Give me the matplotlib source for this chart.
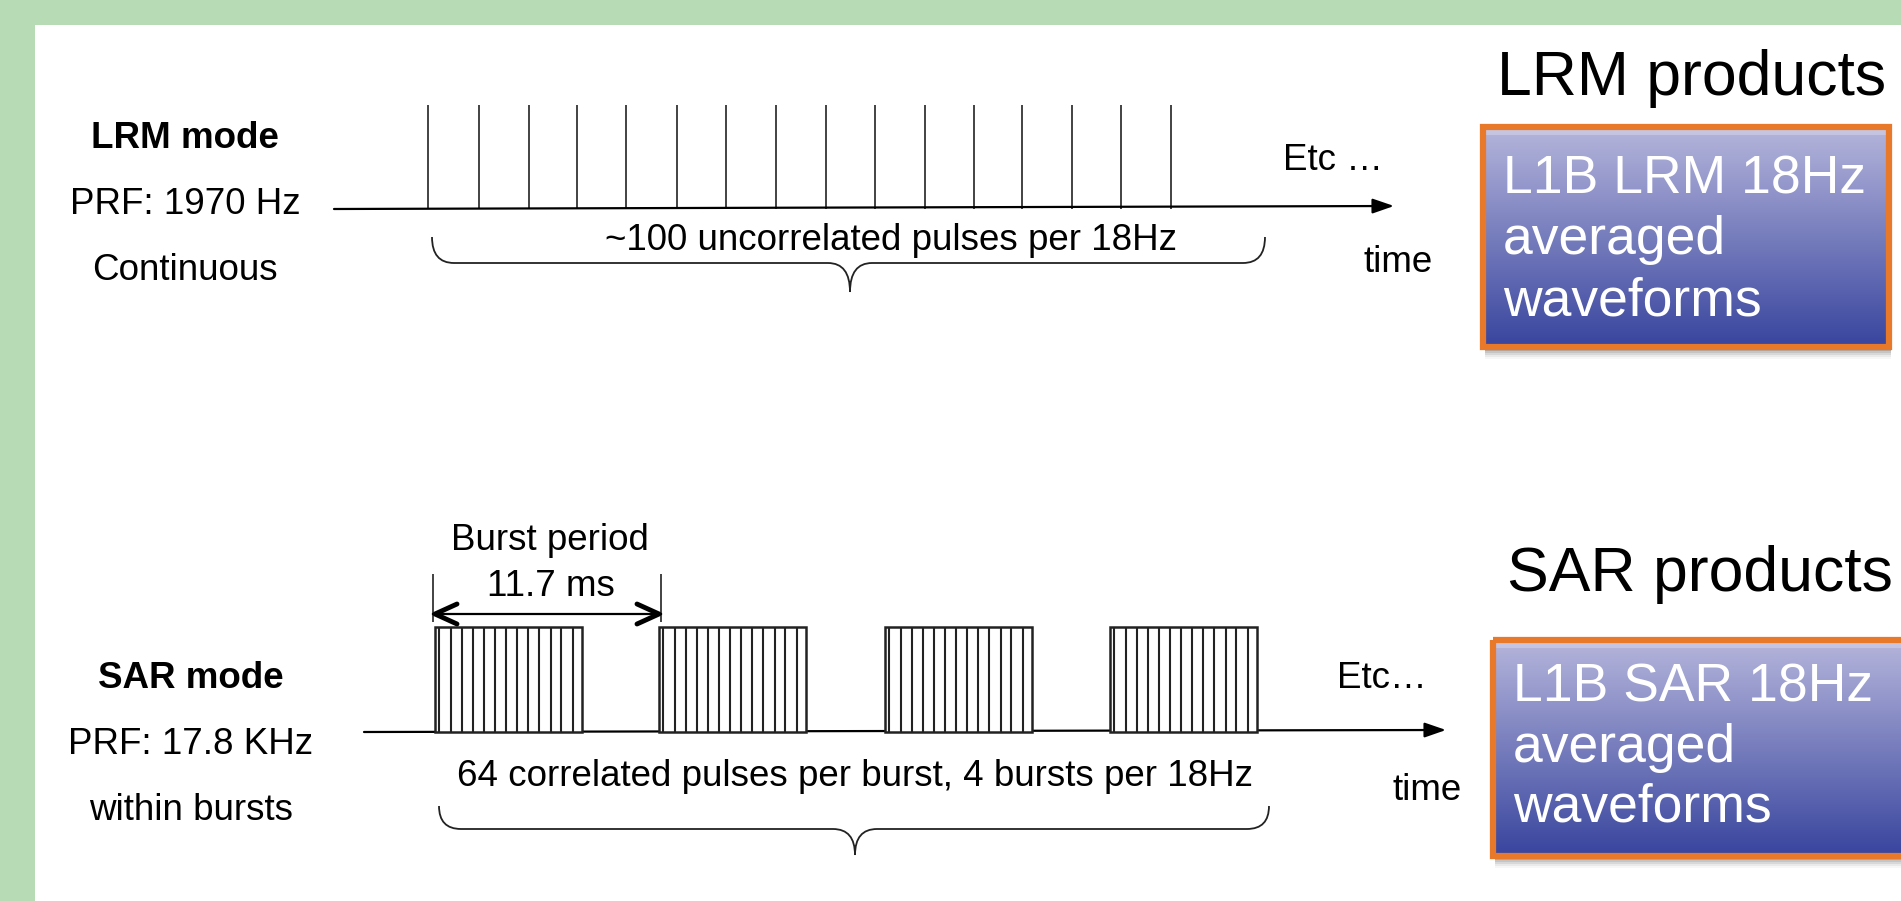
import numpy as np
import matplotlib
matplotlib.use("Agg")
import matplotlib.pyplot as plt
from matplotlib.path import Path
from matplotlib.patches import PathPatch, Rectangle

W, H = 1901, 901

# LRM timeline (pixel positions)
lrm_pulse_x = [428, 479, 529, 577, 626, 677, 726, 776, 826, 875, 925, 974, 1022, 1072, 1121, 1171]
lrm_labels = ["LRM mode", "PRF: 1970 Hz", "Continuous"]
lrm_brace_text = "~100 uncorrelated pulses per 18Hz"

# SAR timeline
sar_burst_x = [435, 659, 885, 1110]
sar_burst_width = 147
sar_pulse_offsets = [4, 16, 27, 38, 49, 60, 71, 82, 93, 104, 116, 126, 138]
sar_labels = ["SAR mode", "PRF: 17.8 KHz", "within bursts"]
sar_brace_text = "64 correlated pulses per burst, 4 bursts per 18Hz"
burst_period_text = ["Burst period", "11.7 ms"]

products = ["LRM products", "SAR products"]
box_lines = [["L1B LRM 18Hz", "averaged", "waveforms"],
             ["L1B SAR 18Hz", "averaged", "waveforms"]]

FONT = ["Liberation Sans", "DejaVu Sans"]
GREEN = "#b7dbb5"


def brace(ax, x0, x1, xc, ytop, ymid, ytip, r=22):
    verts = [(x0, ytop), (x0, ymid), (x0 + r, ymid),
             (xc - r, ymid), (xc, ymid), (xc, ytip),
             (xc, ymid), (xc + r, ymid),
             (x1 - r, ymid), (x1, ymid), (x1, ytop)]
    codes = [Path.MOVETO, Path.CURVE3, Path.CURVE3,
             Path.LINETO, Path.CURVE3, Path.CURVE3,
             Path.CURVE3, Path.CURVE3,
             Path.LINETO, Path.CURVE3, Path.CURVE3]
    ax.add_patch(PathPatch(Path(verts, codes), fill=False, lw=1.3, ec="#222222"))


def product_box(ax, x0, y0, x1, y1, lines, first=50, step=61):
    # drop shadow
    for k, a in enumerate([0.12, 0.09, 0.07, 0.05, 0.03]):
        ax.add_patch(Rectangle((x0 + 2, y0 + 4 + k * 2), x1 - x0, y1 - y0,
                               fc="black", ec="none", alpha=a, zorder=2))
    grad = np.linspace(0, 1, 256)[:, None]
    top = np.array([0.71, 0.71, 0.86])
    bot = np.array([0.22, 0.27, 0.62])
    img = top[None, None, :] * (1 - grad[..., None]) + bot[None, None, :] * grad[..., None]
    ax.imshow(img, extent=(x0, x1, y1, y0), aspect="auto", zorder=3)
    # light bevel strip at the top
    ax.add_patch(Rectangle((x0, y0), x1 - x0, 8, fc="white", ec="none", alpha=0.25, zorder=3.5))
    ax.add_patch(Rectangle((x0, y0), x1 - x0, y1 - y0, fc="none",
                           ec="#e8792a", lw=4.5, zorder=4))
    for i, t in enumerate(lines):
        ax.text(x0 + 20, y0 + first + i * step, t, color="white", fontsize=38.5,
                family=FONT, va="center", ha="left", zorder=5)


fig = plt.figure(figsize=(W / 100, H / 100), dpi=100, facecolor=GREEN)
ax = fig.add_axes([0, 0, 1, 1])
ax.set_xlim(0, W)
ax.set_ylim(H, 0)
ax.axis("off")
ax.add_patch(Rectangle((35, 25), W - 35, H - 25, fc="white", ec="none", zorder=0))

# ---- LRM ----
for i, t in enumerate(lrm_labels):
    ax.text(185, 138 + i * 66, t, fontsize=26.5, family=FONT, ha="center", va="center",
            weight="bold" if i == 0 else "normal")
y_lrm = 209
ax.annotate("", xy=(1394, y_lrm - 3), xytext=(334, y_lrm),
            arrowprops=dict(arrowstyle="-|>,head_length=1.3,head_width=0.45",
                            lw=1.6, color="black", shrinkA=0, shrinkB=0))
ax.vlines(lrm_pulse_x, 105, y_lrm, color="#222222", lw=1.2)
ax.text(891, 241, lrm_brace_text, fontsize=26.5, family=FONT, ha="center", va="center")
brace(ax, 432, 1265, 850, 237, 263, 292)
ax.text(1333, 161, "Etc …", fontsize=26.5, family=FONT, ha="center", va="center")
ax.text(1398, 263, "time", fontsize=26.5, family=FONT, ha="center", va="center")

# ---- SAR ----
for i, t in enumerate(sar_labels):
    ax.text(191, 678 + i * 66, t, fontsize=26.5, family=FONT, ha="center", va="center",
            weight="bold" if i == 0 else "normal")
y_sar = 732
burst_top = 627
ax.annotate("", xy=(1446, y_sar - 2), xytext=(364, y_sar),
            arrowprops=dict(arrowstyle="-|>,head_length=1.3,head_width=0.45",
                            lw=1.6, color="black", shrinkA=0, shrinkB=0))
for bx in sar_burst_x:
    ax.add_patch(Rectangle((bx, burst_top), sar_burst_width, y_sar - burst_top,
                           fc="white", ec="#222222", lw=1.8, zorder=3))
    ax.vlines([bx + o for o in sar_pulse_offsets], burst_top, y_sar,
              color="#222222", lw=1.5, zorder=4)

# burst period marker
p0, p1 = sar_burst_x[0] - 2, sar_burst_x[1] + 2
y_bp = 614
ax.vlines([p0, p1], 574, 622, color="#222222", lw=1.2)
ax.plot([p0, p1], [y_bp, y_bp], color="black", lw=1.6)
ax.plot([p0 + 24, p0 + 2, p0 + 24], [y_bp - 10, y_bp, y_bp + 10], color="black", lw=3.5,
        solid_capstyle="round", zorder=5)
ax.plot([p1 - 24, p1 - 2, p1 - 24], [y_bp - 10, y_bp, y_bp + 10], color="black", lw=3.5,
        solid_capstyle="round", zorder=5)
ax.text(550, 540, burst_period_text[0], fontsize=26.5, family=FONT, ha="center", va="center")
ax.text(551, 586, burst_period_text[1], fontsize=26.5, family=FONT, ha="center", va="center")

ax.text(855, 776, sar_brace_text, fontsize=26.5, family=FONT, ha="center", va="center")
brace(ax, 439, 1269, 855, 806, 829, 855)
ax.text(1382, 679, "Etc…", fontsize=26.5, family=FONT, ha="center", va="center")
ax.text(1427, 790, "time", fontsize=26.5, family=FONT, ha="center", va="center")

# ---- products ----
ax.text(1497, 78, products[0], fontsize=45, family=FONT, ha="left", va="center")
ax.text(1507, 574, products[1], fontsize=45, family=FONT, ha="left", va="center")
product_box(ax, 1483, 127, 1889, 347, box_lines[0], first=52, step=61)
product_box(ax, 1493, 640, 1915, 856, box_lines[1], first=48, step=60)

fig.savefig("out.png", dpi=100, facecolor=GREEN)
